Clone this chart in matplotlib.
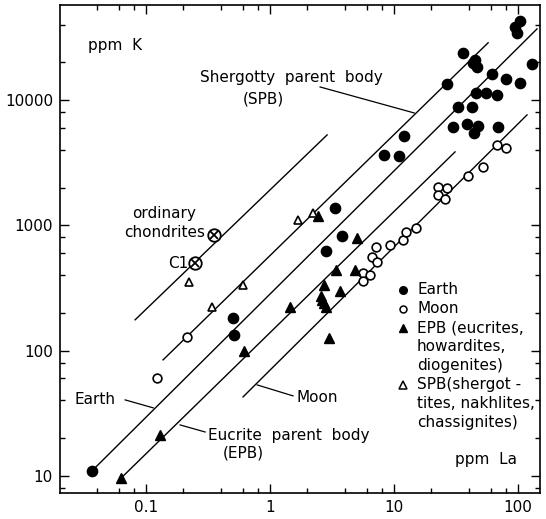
import matplotlib
matplotlib.use("Agg")
import matplotlib.pyplot as plt
from matplotlib.ticker import LogLocator, FixedLocator, FixedFormatter, NullFormatter

# K vs La (ppm)
earth_la = [0.0367, 0.503, 0.51, 2.83, 3.34, 3.81, 8.3, 10.97, 12.05,
            26.7, 29.9, 32.8, 36.0, 38.8, 42.6, 44.2, 45.0, 45.8, 47.5,
            46.8, 43.0, 55.2, 61.7, 67.7, 69.0, 80.0, 94.6, 98.0, 104.0,
            104.0, 130.0]
earth_k = [11, 182, 133, 625, 1377, 822, 3650, 3580, 5160,
           13400, 6100, 8800, 23800, 6450, 8800, 5460, 20800, 11400, 6210,
           18400, 19600, 11400, 16100, 11000, 6100, 14700, 38300, 34400, 42800,
           13700, 19400]

moon_la = [0.123, 0.214, 5.62, 6.4, 5.62, 6.65, 7.16, 7.3, 9.29, 11.8,
           12.5, 15.0, 22.6, 26.7, 22.6, 25.8, 39.5, 52.2, 67.8, 80.0]
moon_k = [60.5, 128, 417, 402, 360, 560, 673, 510, 698, 764,
          885, 952, 2020, 1990, 1750, 1630, 2480, 2930, 4380, 4150]

epb_la = [0.0628, 0.13, 0.617, 1.45, 2.58, 2.62, 2.72, 2.83, 2.72, 3.4,
          4.84, 3.67, 2.99, 5.04, 2.44]
epb_k = [9.6, 21.2, 99.5, 223, 273, 254, 240, 223, 334, 441,
         441, 299, 126, 795, 1190]

spb_la = [0.222, 0.34, 0.605, 1.68, 2.22]
spb_k = [353, 223, 334, 1100, 1256]

chondrite_names = ["ordinary\nchondrites", "C1"]
chondrite_la = [0.353, 0.248]
chondrite_k = [837, 501]

# reference lines (end points, La / K)
line_chondrite = ([0.0815, 2.88], [176, 5260])
line_spb = ([0.137, 57.3], [84.3, 28600])
line_earth = ([0.0367, 142], [11, 36900])
line_epb = ([0.0628, 31], [9.6, 3850])
line_moon = ([0.605, 118], [42.7, 7600])

legend_labels = ["Earth", "Moon", "EPB (eucrites,\nhowardites,\ndiogenites)",
                 "SPB(shergot -\ntites, nakhlites,\nchassignites)"]

x_ticks = [0.1, 1, 10, 100]
x_labels = ["0.1", "1", "10", "100"]
y_ticks = [10, 100, 1000, 10000]
y_labels = ["10", "100", "1000", "10000"]

plt.rcParams['font.family'] = ['DejaVu Sans']
FS = 11

fig = plt.figure(figsize=(5.46, 5.19), dpi=100)
ax = fig.add_axes([0.1099, 0.0501, 0.879, 0.9403])
ax.set_xscale("log")
ax.set_yscale("log")
ax.set_xlim(0.0202, 150)
ax.set_ylim(7.3, 57300)

# lines
for la, k in [line_chondrite, line_spb, line_earth, line_epb, line_moon]:
    ax.plot(la, k, color="black", lw=1.0, zorder=1)

# leaders for the line labels
leaders = [((2.53, 12700), (14.5, 7880)),
           ((0.0677, 40.4), (0.114, 34.9)),
           ((0.188, 25.5), (0.299, 22.4)),
           ((0.786, 53.2), (1.53, 43.5))]
for (x0, y0), (x1, y1) in leaders:
    ax.plot([x0, x1], [y0, y1], color="black", lw=0.9, zorder=1)

# points
ax.plot(earth_la, earth_k, "o", ms=7.4, color="black", zorder=3)
ax.plot(moon_la, moon_k, "o", ms=6.3, mfc="white", mec="black", mew=1.2, zorder=3)
ax.plot(epb_la, epb_k, "^", ms=6.5, color="black", zorder=3)
ax.plot(spb_la, spb_k, "^", ms=6.3, mfc="white", mec="black", mew=1.2, zorder=3)
ax.plot(chondrite_la, chondrite_k, "o", ms=9, mfc="white", mec="black", mew=1.3, zorder=4)
ax.plot(chondrite_la, chondrite_k, "x", ms=6, color="black", mew=1.3, zorder=5)

# text labels
tr = ax.transAxes
ax.text(0.058, 0.916, "ppm  K", transform=tr, fontsize=FS, va="center")
ax.text(0.823, 0.068, "ppm  La", transform=tr, fontsize=FS, va="center")
ax.text(0.292, 0.852, "Shergotty  parent  body", transform=tr, fontsize=FS, va="center")
ax.text(0.381, 0.807, "(SPB)", transform=tr, fontsize=FS, va="center")
ax.text(0.302, 0.553, chondrite_names[0], transform=tr, fontsize=FS, va="center",
        ha="right", multialignment="center", linespacing=1.3)
ax.text(0.267, 0.471, chondrite_names[1], transform=tr, fontsize=FS, va="center", ha="right")
ax.text(0.031, 0.191, "Earth", transform=tr, fontsize=FS, va="center")
ax.text(0.308, 0.117, "Eucrite  parent  body", transform=tr, fontsize=FS, va="center")
ax.text(0.340, 0.082, "(EPB)", transform=tr, fontsize=FS, va="center")
ax.text(0.492, 0.195, "Moon", transform=tr, fontsize=FS, va="center")

# hand-made legend
leg_y = [0.416, 0.377, 0.338, 0.221]
leg_style = [dict(marker="o", ms=5.5, color="black"),
             dict(marker="o", ms=5, mfc="white", mec="black", mew=1.1),
             dict(marker="^", ms=6, color="black"),
             dict(marker="^", ms=5.5, mfc="white", mec="black", mew=1.1)]
for y, lab, st in zip(leg_y, legend_labels, leg_style):
    ax.plot([0.715], [y], transform=tr, ls="none", zorder=3, **st)
    ax.text(0.744, y + 0.016, lab, transform=tr, fontsize=FS, va="top", linespacing=1.32)

# axes styling
for sp in ax.spines.values():
    sp.set_linewidth(1.2)
ax.xaxis.set_major_locator(FixedLocator(x_ticks))
ax.xaxis.set_major_formatter(FixedFormatter(x_labels))
ax.yaxis.set_major_locator(FixedLocator(y_ticks))
ax.yaxis.set_major_formatter(FixedFormatter(y_labels))
ax.xaxis.set_minor_locator(LogLocator(base=10, subs=(2, 4, 6, 8)))
ax.yaxis.set_minor_locator(LogLocator(base=10, subs=(2, 4, 6, 8)))
ax.xaxis.set_minor_formatter(NullFormatter())
ax.yaxis.set_minor_formatter(NullFormatter())
ax.tick_params(which="both", direction="in", top=True, right=True, width=1.0)
ax.tick_params(which="major", length=6.5, labelsize=FS, pad=5)
ax.tick_params(which="minor", length=3.5)

fig.savefig("out.png", dpi=100)
